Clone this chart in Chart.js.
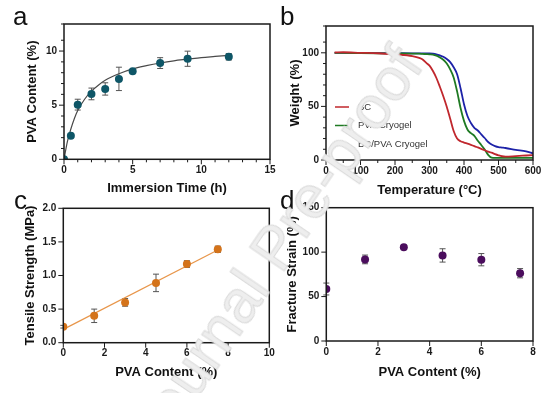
<!DOCTYPE html>
<html>
<head>
<meta charset="utf-8">
<script src="https://cdn.jsdelivr.net/npm/chart.js@4.4.1/dist/chart.umd.min.js"></script>
<style>
  html, body { margin: 0; padding: 0; background: #fff; }
  #wrap { position: relative; width: 554px; height: 393px; overflow: hidden; font-family: "Liberation Sans", Arial, sans-serif; }
  #wrap canvas { position: absolute; left: 0; top: 0; }
  .tag { position: absolute; font-size: 26px; line-height: 1; color: #111; }
  #wm { position: absolute; left: 275px; top: 248px; transform: translate(-50%, -50%) rotate(-55.6deg);
        font-size: 61px; line-height: 1; color: #eeeeee; -webkit-text-stroke: 1px #dadada; white-space: nowrap; }
</style>
</head>
<body>
<div id="wrap">
  <canvas id="chartA" width="554" height="393"></canvas>
  <canvas id="chartB" width="554" height="393"></canvas>
  <canvas id="chartC" width="554" height="393"></canvas>
  <canvas id="chartD" width="554" height="393"></canvas>
  <div class="tag" style="left:13px; top:3px;">a</div>
  <div class="tag" style="left:280px; top:3px;">b</div>
  <div class="tag" style="left:14px; top:187px;">c</div>
  <div class="tag" style="left:280px; top:187px;">d</div>
  <div id="wm">Journal Pre-proof</div>
</div>
<script>
// (a) PVA uptake vs immersion time
const timeH = [0, 0.5, 1, 2, 3, 4, 5, 7, 9, 12];
const pvaUptake = [0, 2.17, 5.05, 6.04, 6.5, 7.43, 8.14, 8.89, 9.29, 9.47];
const pvaUptakeErr = [0, 0, 0.5, 0.54, 0.57, 1.08, 0.1, 0.5, 0.7, 0.3];
const fitTimeH = [0, 0.25, 0.5, 0.75, 1, 1.5, 2, 2.5, 3, 4, 5, 6, 7, 8, 9, 10, 11, 12];
const fitUptake = [0, 1.65, 2.8, 3.75, 4.5, 5.55, 6.3, 6.85, 7.3, 7.9, 8.35, 8.65, 8.9, 9.1, 9.25, 9.4, 9.5, 9.6];

// (b) TGA curves
const tgaLabels = ["BC", "PVA Cryogel", "BC/PVA Cryogel"];
const tempC = [25, 50, 100, 150, 200, 250, 270, 280, 290, 300, 310, 320, 330, 340, 350, 360, 370, 380, 390, 400,
               410, 420, 430, 440, 450, 460, 470, 480, 490, 500, 510, 520, 550, 580, 600];
const weightBC = [100.3, 100.5, 100, 99.6, 98.5, 97, 95.2, 93.8, 90.8, 88, 83, 76.5, 68.3, 59.5, 49.7, 38.5, 27, 20, 17.5, 16.3,
                  15.3, 14.2, 13, 11.7, 10.4, 9.1, 7.9, 6.8, 5.5, 4.4, 3.5, 3.1, 3.6, 4.2, 4.6];
const weightPVA = [100, 100, 99.7, 99.5, 99.4, 99.3, 99.2, 99, 98.8, 98.6, 98.3, 97.3, 95.7, 93.5, 90, 84.5, 77, 64, 48.5, 36.5,
                   28.5, 25, 22.5, 18, 14, 9.8, 4.8, 2.2, 1.9, 1.9, 1.9, 1.9, 1.9, 1.9, 1.9];
const weightBCPVA = [100, 100, 99.8, 99.7, 99.6, 99.5, 99.5, 99.4, 99.4, 99.4, 99.2, 98.6, 97.6, 96.3, 94.2, 91.3, 86.5, 80, 67, 52,
                     41, 34.5, 30, 27.5, 24, 20.5, 16.8, 14.5, 13, 12, 11.6, 11.2, 9.5, 8, 6.2];
const tgaColors = ["#c0272d", "#1f7a23", "#1d22a8"];

// (c) tensile strength, (d) fracture strain vs PVA content
const pvaContent = [0, 1.5, 3, 4.5, 6, 7.5];
const tensile = [0.238, 0.40, 0.60, 0.89, 1.17, 1.39];
const tensileErr = [0.02, 0.1, 0.057, 0.13, 0.05, 0.047];
const tensileFitX = [0, 7.5];
const tensileFitY = [0.198, 1.38];
const strain = [58.5, 91.8, 105.4, 96.3, 91.5, 76.3];
const strainErr = [6.7, 4.9, 1, 7.5, 6.9, 5.2];

const FONT = '"Liberation Sans", Arial, sans-serif';
const W = 554, H = 393, Y_W = 48, X_H = 42;
const pts = (xs, ys) => xs.map((x, i) => ({ x, y: ys[i] }));

function layoutFor(a) {
  return { padding: { left: a.left - Y_W, right: W - a.right, top: a.top, bottom: H - a.bottom - X_H } };
}

function axis(o) {
  return {
    type: 'linear', min: o.min, max: o.max,
    border: { display: false },
    grid: { display: false, drawTicks: false, tickLength: 0 },
    ticks: {
      stepSize: o.step, autoSkip: false, maxRotation: 0, padding: o.pad, color: '#1a1a1a',
      font: { family: FONT, size: 10, weight: 'bold' }, callback: o.label
    },
    title: {
      display: true, text: o.title, color: '#111', padding: o.titlePad,
      font: { family: FONT, size: 13, weight: 'bold' }
    },
    afterFit: s => { if (s.isHorizontal()) s.height = X_H; else s.width = Y_W; }
  };
}

const errorBars = {
  id: 'errorBars',
  beforeDatasetsDraw(chart) {
    const { ctx, scales: { x, y } } = chart;
    ctx.save();
    ctx.strokeStyle = '#555';
    ctx.lineWidth = 1;
    chart.data.datasets.forEach(ds => {
      if (!ds.errors) return;
      ds.data.forEach((p, i) => {
        const e = ds.errors[i];
        if (!e) return;
        const px = x.getPixelForValue(p.x);
        const t = y.getPixelForValue(p.y + e), b = y.getPixelForValue(p.y - e);
        ctx.beginPath();
        ctx.moveTo(px, t); ctx.lineTo(px, b);
        ctx.moveTo(px - 3, t); ctx.lineTo(px + 3, t);
        ctx.moveTo(px - 3, b); ctx.lineTo(px + 3, b);
        ctx.stroke();
      });
    });
    ctx.restore();
  }
};

const frame = {
  id: 'frame',
  afterDraw(chart) {
    const { ctx, chartArea: ca, scales } = chart;
    ctx.save();
    ctx.strokeStyle = '#1a1a1a';
    ctx.lineWidth = 1;
    [scales.x, scales.y].forEach(s => {
      s.ticks.forEach(t => {
        const len = t.label !== '' ? 5 : 3;
        const p = s.getPixelForValue(t.value);
        ctx.beginPath();
        if (s.isHorizontal()) { ctx.moveTo(p, ca.bottom); ctx.lineTo(p, ca.bottom + len); }
        else { ctx.moveTo(ca.left - len, p); ctx.lineTo(ca.left, p); }
        ctx.stroke();
      });
    });
    ctx.lineWidth = 1.5;
    ctx.strokeRect(ca.left, ca.top, ca.right - ca.left, ca.bottom - ca.top);
    ctx.restore();
  }
};

const insetLegend = {
  id: 'insetLegend',
  afterDatasetsDraw(chart, args, opts) {
    const { ctx, chartArea: ca } = chart;
    ctx.save();
    ctx.font = '9.5px ' + FONT;
    ctx.textBaseline = 'middle';
    chart.data.datasets.forEach((ds, i) => {
      const yy = ca.top + opts.top + i * opts.gap;
      ctx.strokeStyle = ds.borderColor;
      ctx.lineWidth = 1.5;
      ctx.beginPath();
      ctx.moveTo(ca.left + 9, yy); ctx.lineTo(ca.left + 23, yy);
      ctx.stroke();
      ctx.fillStyle = '#333';
      ctx.fillText(ds.label, ca.left + 32, yy);
    });
    ctx.restore();
  }
};

const common = (area) => ({
  responsive: false, animation: false,
  layout: layoutFor(area),
  plugins: { legend: { display: false }, tooltip: { enabled: false } }
});

// (a)
new Chart(document.getElementById('chartA'), {
  type: 'scatter',
  data: {
    datasets: [
      { data: pts(timeH, pvaUptake), errors: pvaUptakeErr, pointRadius: 4, pointBackgroundColor: '#0e5667', pointBorderWidth: 0 },
      { data: pts(fitTimeH, fitUptake), showLine: true, pointRadius: 0, borderColor: '#4a4a4a', borderWidth: 1.2, cubicInterpolationMode: 'monotone' }
    ]
  },
  options: Object.assign(common({ left: 64, right: 270, top: 24, bottom: 159.3 }), {
    scales: {
      x: axis({ min: 0, max: 15, step: 1, pad: 5, title: 'Immersion Time (h)', titlePad: 5, label: v => v % 5 === 0 ? v : '' }),
      y: axis({ min: 0, max: 12.5, step: 1, pad: 7, title: 'PVA Content (%)', titlePad: 9, label: v => v % 5 === 0 ? v : '' })
    }
  }),
  plugins: [errorBars, frame]
});

// (b)
const tgaSeries = [weightBC, weightPVA, weightBCPVA];
const optsB = common({ left: 326, right: 533, top: 26, bottom: 160 });
optsB.plugins.insetLegend = { top: 81, gap: 18.5 };
optsB.scales = {
  x: axis({ min: 0, max: 600, step: 50, pad: 5, title: 'Temperature (\u00B0C)', titlePad: 4, label: v => v % 100 === 0 ? v : '' }),
  y: axis({ min: 0, max: 125, step: 10, pad: 7, title: 'Weight (%)', titlePad: 9.5, label: v => v % 50 === 0 ? v : '' })
};
new Chart(document.getElementById('chartB'), {
  type: 'scatter',
  data: {
    datasets: tgaSeries.map((w, i) => ({
      label: tgaLabels[i], data: pts(tempC, w), showLine: true, pointRadius: 0,
      borderColor: tgaColors[i], borderWidth: 1.8, cubicInterpolationMode: 'monotone'
    }))
  },
  options: optsB,
  plugins: [frame, insetLegend]
});

// (c)
new Chart(document.getElementById('chartC'), {
  type: 'scatter',
  data: {
    datasets: [
      { data: pts(pvaContent, tensile), errors: tensileErr, pointRadius: 4, pointBackgroundColor: '#d4731a', pointBorderWidth: 0 },
      { data: pts(tensileFitX, tensileFitY), showLine: true, pointRadius: 0, borderColor: '#e8964a', borderWidth: 1.2 }
    ]
  },
  options: Object.assign(common({ left: 63.3, right: 269.3, top: 208.3, bottom: 342.7 }), {
    scales: {
      x: axis({ min: 0, max: 10, step: 2, pad: 5, title: 'PVA Content (%)', titlePad: 4, label: v => v }),
      y: axis({ min: 0, max: 2, step: 0.5, pad: 7, title: 'Tensile Strength (MPa)', titlePad: 7, label: v => v.toFixed(1) })
    }
  }),
  plugins: [errorBars, frame]
});

// (d)
new Chart(document.getElementById('chartD'), {
  type: 'scatter',
  data: {
    datasets: [
      { data: pts(pvaContent, strain), errors: strainErr, pointRadius: 4, pointBackgroundColor: '#4b0d5d', pointBorderWidth: 0 }
    ]
  },
  options: Object.assign(common({ left: 326.3, right: 533, top: 207.7, bottom: 341 }), {
    scales: {
      x: axis({ min: 0, max: 8, step: 2, pad: 5, title: 'PVA Content (%)', titlePad: 3, label: v => v }),
      y: axis({ min: 0, max: 150, step: 50, pad: 7, title: 'Fracture Strain (%)', titlePad: 6, label: v => v })
    }
  }),
  plugins: [errorBars, frame]
});
</script>
</body>
</html>
